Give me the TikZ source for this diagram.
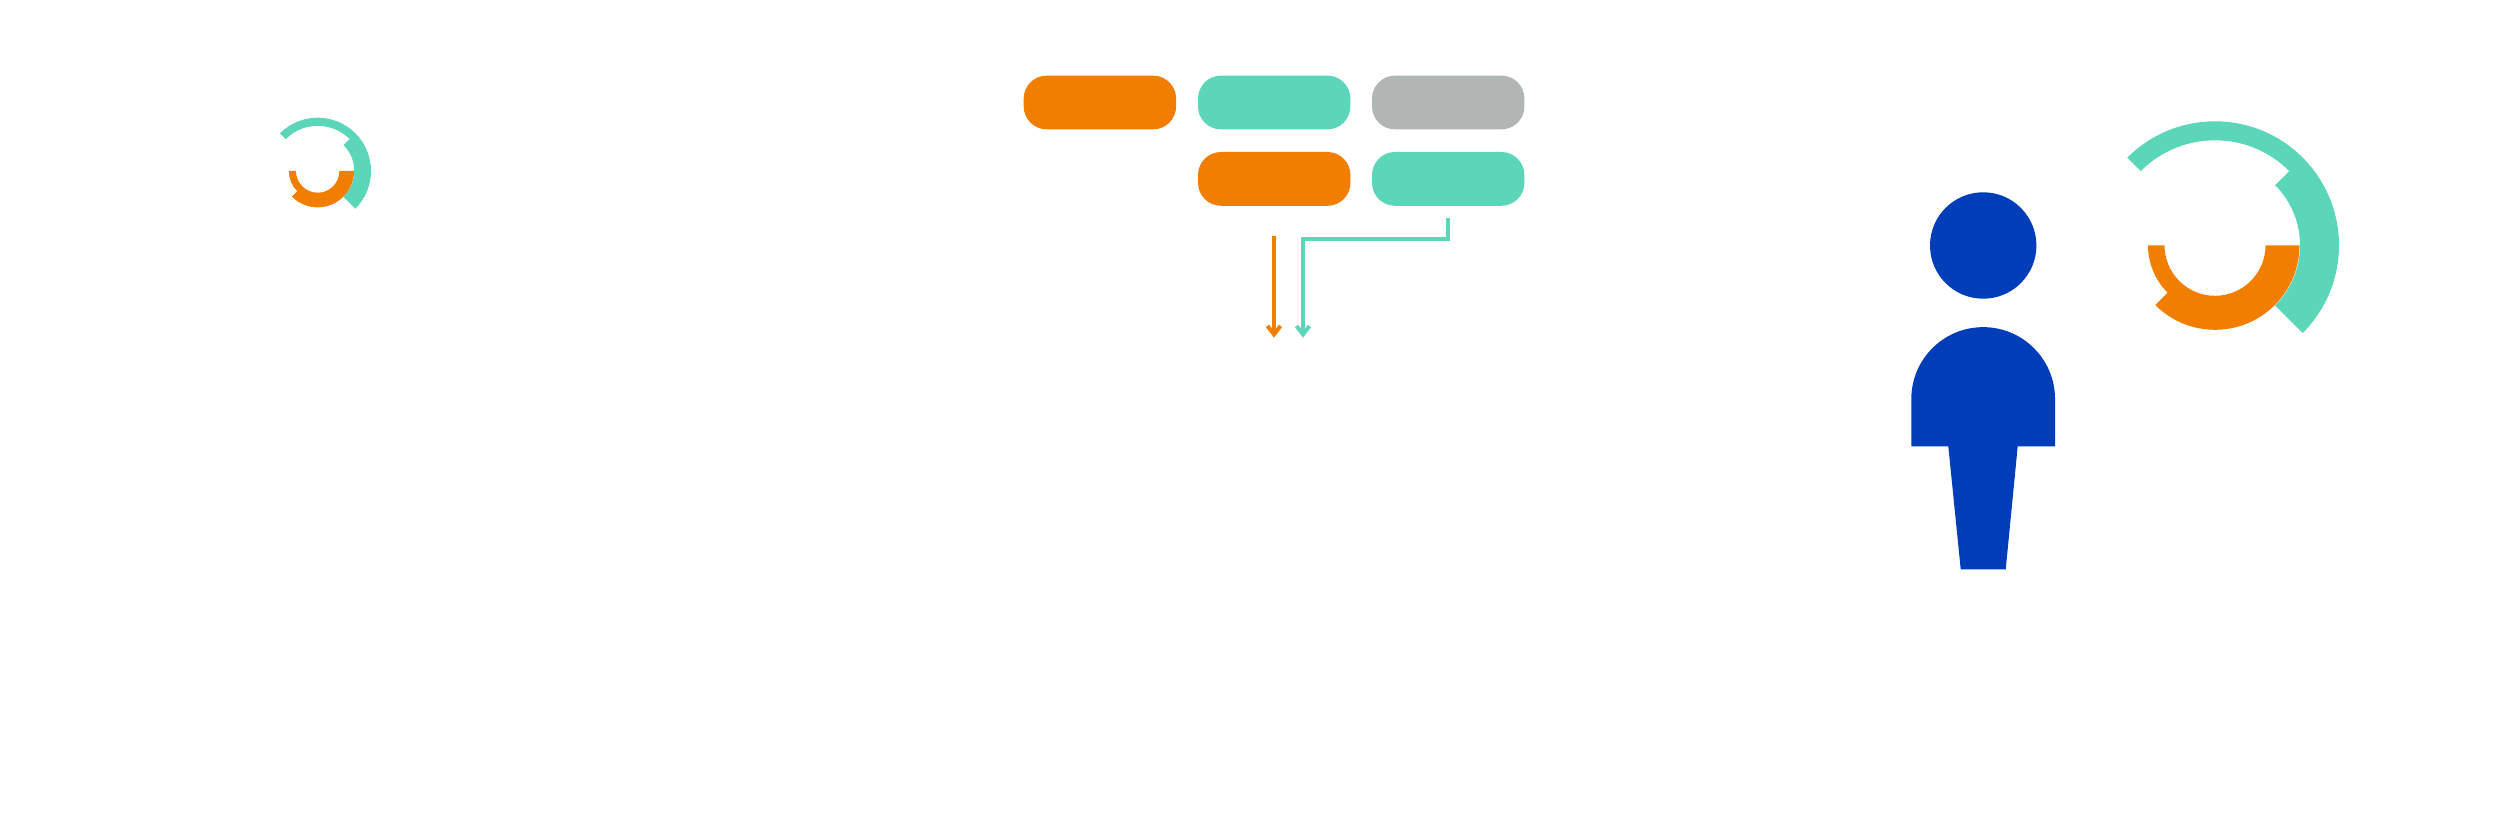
\documentclass[tikz,border=0pt]{standalone}
\usetikzlibrary{arrows.meta}
\definecolor{brandorange}{HTML}{F27E00}
\definecolor{brandteal}{HTML}{5CD6B8}
\definecolor{brandgrey}{HTML}{B1B5B4}
\definecolor{brandblue}{HTML}{003DB8}
\tikzset{
  x=1pt,y=1pt,
  pill/.style={rectangle,rounded corners=23pt,minimum width=152.4pt,minimum height=53.8pt,inner sep=0pt,outer sep=0pt,draw=none},
  link/.style={line width=4pt,-{Straight Barb[length=8.5pt,width=13pt,line width=4pt]}},
  ringmark/.pic={
    \fill[brandteal] (135:124pt) arc[start angle=135,end angle=-45,radius=124pt]
      -- (-45:85pt) arc[start angle=-45,end angle=45,radius=85pt]
      -- (45:105pt) arc[start angle=45,end angle=135,radius=105pt] -- cycle;
    \fill[brandorange] (180:67pt) arc[start angle=180,end angle=225,radius=67pt]
      -- (225:84.5pt) arc[start angle=225,end angle=360,radius=84.5pt]
      -- (0:50.5pt) arc[start angle=360,end angle=180,radius=50.5pt] -- cycle;
  }
}
\begin{document}
\begin{tikzpicture}
\useasboundingbox (0,0) rectangle (2500,815);
\pic[scale=0.43] at (317.7,644) {ringmark};
\pic at (2215,569.7) {ringmark};
% boxes
\node[pill,fill=brandorange] (boxa) at (1099.9,712.5) {};
\node[pill,fill=brandteal] (boxb) at (1274.2,712.5) {};
\node[pill,fill=brandgrey] (boxc) at (1448.2,712.5) {};
\node[pill,fill=brandorange] (boxd) at (1274.2,636.1) {};
\node[pill,fill=brandteal] (boxe) at (1448.2,636.1) {};
% connectors
\coordinate (os) at (1274,579);
\coordinate (oe) at (1274,477.3);
\coordinate (ts) at (1448,597);
\coordinate (tm) at (1303,576);
\coordinate (te) at (1303,477.3);
\draw[link,draw=brandorange] (os) -- (oe);
\draw[link,draw=brandteal,line join=miter] (ts) |- (tm) -- (te);
% person
\node[circle,fill=brandblue,minimum size=106.4pt,inner sep=0pt,outer sep=0pt,draw=none] (head) at (1983.2,569.5) {};
\fill[brandblue] (1911.3,368.7) -- (1911.3,416) arc[start angle=180,end angle=0,radius=71.85pt]
  -- (2055,368.7) -- (2017.7,368.7) -- (2005.7,245.7) -- (1960.7,245.7) -- (1948.3,368.7) -- cycle;
\end{tikzpicture}
\end{document}
